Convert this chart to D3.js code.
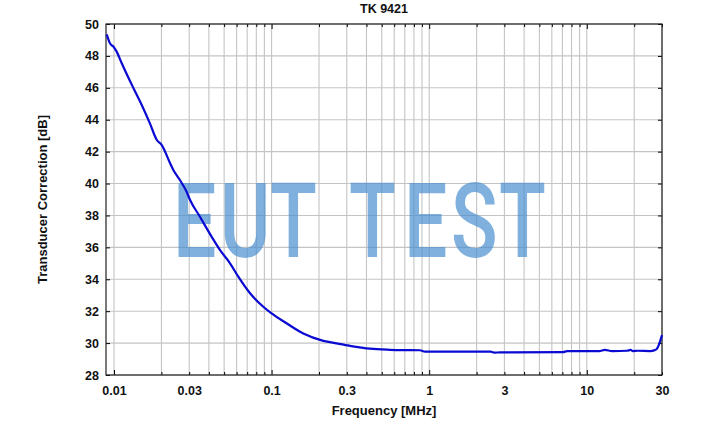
<!DOCTYPE html>
<html>
<head>
<meta charset="utf-8">
<script src="https://cdn.jsdelivr.net/npm/d3@7"></script>
<style>
  html, body { margin: 0; padding: 0; background: #fff; }
  svg { display: block; }
  text { font-family: "Liberation Sans", Arial, sans-serif; font-weight: bold; fill: #111; }
</style>
</head>
<body>
<svg id="chart" width="708" height="442"></svg>
<script>
// ---- data ----
const title = "TK 9421";
const xLabel = "Frequency [MHz]";
const yLabel = "Transducer Correction [dB]";
const watermark = "EUT TEST";
const freqMHz = [0.00899, 0.00943, 0.0100, 0.0104, 0.0112, 0.0133, 0.0150, 0.0169, 0.0187, 0.0201, 0.0227, 0.0238, 0.0262, 0.0289, 0.0304, 0.0351, 0.0417, 0.0471, 0.0545, 0.0615, 0.0730, 0.0886, 0.100, 0.125, 0.159, 0.213, 0.259, 0.314, 0.421, 0.564, 0.653, 0.874, 0.941, 1.26, 2.45, 2.62, 2.81, 3.03, 7.06, 7.5, 12.0, 13.0, 14.5, 17.98, 19.0, 19.63, 21.0, 25.2, 27.0, 27.9, 29.1, 30.0];
const correctionDb = [49.35, 48.79, 48.54, 48.27, 47.54, 45.97, 44.92, 43.77, 42.73, 42.41, 41.27, 40.85, 40.22, 39.49, 38.97, 37.92, 36.66, 35.83, 35.0, 34.16, 33.12, 32.28, 31.86, 31.23, 30.6, 30.14, 29.98, 29.83, 29.65, 29.58, 29.56, 29.55, 29.47, 29.46, 29.46, 29.40, 29.42, 29.42, 29.43, 29.50, 29.50, 29.57, 29.50, 29.52, 29.57, 29.50, 29.52, 29.50, 29.56, 29.66, 30.08, 30.5];
const yTicks = [28, 30, 32, 34, 36, 38, 40, 42, 44, 46, 48, 50];
const xTickLabels = [0.01, 0.03, 0.1, 0.3, 1, 3, 10, 30];
const xGrid = [0.01,0.02,0.03,0.04,0.05,0.06,0.07,0.08,0.09,0.1,0.2,0.3,0.4,0.5,0.6,0.7,0.8,0.9,1,2,3,4,5,6,7,8,9,10,20,30];
const xMajor = [0.01, 0.1, 1, 10];

// ---- layout ----
const svg = d3.select("#chart");
const L = 106, R = 662, T = 24, B = 375;
const x = d3.scaleLog().domain([0.00890, 30]).range([L, R]);
const y = d3.scaleLinear().domain([28, 50]).range([B, T]);

// grid
const grid = svg.append("g");
grid.selectAll("line.v").data(xGrid).join("line")
  .attr("x1", d => x(d)).attr("x2", d => x(d)).attr("y1", T).attr("y2", B)
  .attr("stroke", "#c4c4c4").attr("stroke-width", 1.1);
grid.selectAll("line.h").data(yTicks).join("line")
  .attr("x1", L).attr("x2", R).attr("y1", d => y(d)).attr("y2", d => y(d))
  .attr("stroke", "#c4c4c4").attr("stroke-width", 1.1);

// watermark: per-character positions, glyphs compressed horizontally
const sx = 0.74;
const charLeft = [173, 220, 270, 320, 349, 404, 451, 499];
svg.append("text")
  .attr("transform", `translate(0,257) scale(${sx},1)`)
  .attr("x", charLeft.map(v => (v / sx).toFixed(1)).join(" ")).attr("y", 0)
  .style("font-family", "Roboto, 'Liberation Sans', sans-serif")
  .style("font-weight", "500")
  .style("font-size", "104px")
  .style("fill", "#4a8fd0").style("fill-opacity", 0.7)
  .text(watermark);

// axes (inward ticks)
const fmtX = d => String(d);
const axB = d3.axisBottom(x).tickValues(xGrid).tickSize(0).tickFormat("");
const gB = svg.append("g").attr("transform", `translate(0,${B})`).call(axB);
gB.select(".domain").remove();
gB.selectAll(".tick line").attr("y2", d => xMajor.includes(d) ? -5 : -3).attr("stroke", "#000");
gB.selectAll(".tick").filter(d => xTickLabels.includes(d)).select("text")
  .text(d => fmtX(d)).attr("y", 11).attr("dy", "0.71em")
  .style("font-size", "12.5px").style("font-family", "Liberation Sans, Arial, sans-serif").attr("fill", "#111");

const gT = svg.append("g").attr("transform", `translate(0,${T})`).call(d3.axisTop(x).tickValues(xGrid).tickSize(0).tickFormat(""));
gT.select(".domain").remove();
gT.selectAll(".tick line").attr("y2", d => xMajor.includes(d) ? 5 : 3).attr("stroke", "#000");

const gL = svg.append("g").attr("transform", `translate(${L},0)`).call(d3.axisLeft(y).tickValues(yTicks).tickSize(0).tickPadding(7));
gL.select(".domain").remove();
gL.selectAll(".tick line").attr("x2", 4).attr("stroke", "#000");
gL.selectAll(".tick text").style("font-size", "12.5px").style("font-family", "Liberation Sans, Arial, sans-serif").attr("fill", "#111");

const gR = svg.append("g").attr("transform", `translate(${R},0)`).call(d3.axisRight(y).tickValues(yTicks).tickSize(0).tickFormat(""));
gR.select(".domain").remove();
gR.selectAll(".tick line").attr("x2", -4).attr("stroke", "#000");

// frame
svg.append("rect").attr("x", L).attr("y", T).attr("width", R - L).attr("height", B - T)
  .attr("fill", "none").attr("stroke", "#222").attr("stroke-width", 1.2);

// curve
const pts = freqMHz.map((f, i) => [f, correctionDb[i]]);
svg.append("path").datum(pts)
  .attr("d", d3.line().x(d => x(d[0])).y(d => y(d[1])).curve(d3.curveMonotoneX))
  .attr("fill", "none").attr("stroke", "#0a0ad2").attr("stroke-width", 2.2);

// titles
svg.append("text").attr("x", (L + R) / 2).attr("y", 13).attr("text-anchor", "middle")
  .style("font-size", "12.5px").text(title);
svg.append("text").attr("x", (L + R) / 2).attr("y", 415).attr("text-anchor", "middle")
  .style("font-size", "13px").text(xLabel);
svg.append("text").attr("transform", `translate(47,${(T + B) / 2}) rotate(-90)`).attr("text-anchor", "middle")
  .style("font-size", "13px").text(yLabel);
</script>
</body>
</html>
